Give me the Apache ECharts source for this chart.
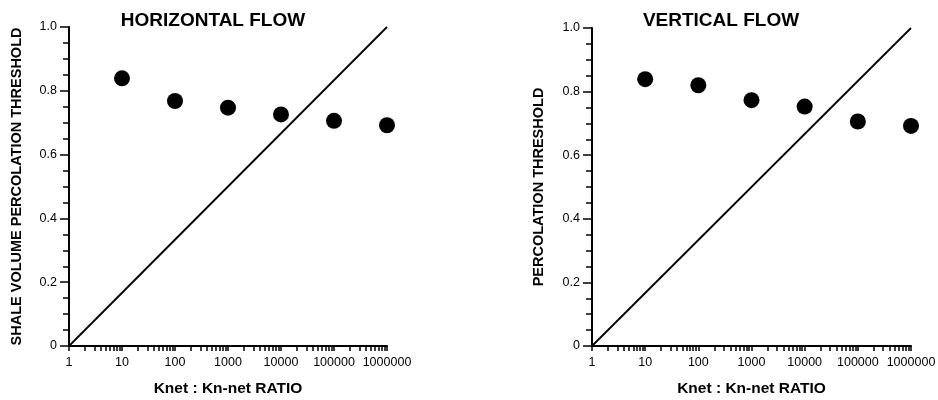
<!DOCTYPE html>
<html>
<head>
<meta charset="utf-8">
<title>Percolation threshold vs Knet : Kn-net ratio</title>
<script src="https://cdn.jsdelivr.net/npm/echarts@6/dist/echarts.min.js"></script>
<style>
  html, body { margin: 0; padding: 0; background: #fff; }
  #chart { width: 938px; height: 400px; }
</style>
</head>
<body>
<div id="chart"></div>
<script>
// Knet : Kn-net ratio (x positions of the dots)
const ratios = [10, 100, 1000, 10000, 100000, 1000000];
const horizontalThreshold = [0.839, 0.768, 0.747, 0.726, 0.706, 0.692];
const verticalThreshold = [0.839, 0.820, 0.773, 0.753, 0.706, 0.692];
// reference diagonal, from (1, 0) to (1000000, 1)
const diagonalX = [1, 1000000];
const diagonalY = [0, 1];

const titles = ['HORIZONTAL FLOW', 'VERTICAL FLOW'];
const yNames = ['SHALE VOLUME PERCOLATION THRESHOLD', 'PERCOLATION THRESHOLD'];
const xName = 'Knet : Kn-net RATIO';

const font = '"Liberation Sans", Arial, Helvetica, sans-serif';

// log minor ticks 2..9 of every decade, plus the decades
const xTickValues = [];
for (let d = 1; d < 1000000; d *= 10) {
  for (let k = 1; k < 10; k++) xTickValues.push(d * k);
}
xTickValues.push(1000000);

// outerBoundsMode none: keep the plot box where it is, labels may run to the edge
const grids = [
  {left: 69, top: 27, width: 318, height: 319, outerBoundsMode: 'none'},
  {left: 592, top: 28, width: 319, height: 318, outerBoundsMode: 'none'}
];

function xAxisFor(i) {
  return {
    gridIndex: i,
    type: 'log',
    logBase: 10,
    min: 1,
    max: 1000000,
    name: xName,
    nameLocation: 'middle',
    nameGap: 35,
    nameTextStyle: {fontFamily: font, fontWeight: 'bold', fontSize: 15.5, color: '#000'},
    axisLine: {onZero: false, lineStyle: {color: '#000', width: 2}},
    axisTick: {show: true, length: 5, customValues: xTickValues, lineStyle: {color: '#000', width: 1.5}},
    axisLabel: {
      fontFamily: font, fontSize: 12.5, color: '#000', margin: 10,
      formatter: function (v) { return String(Math.round(v)) }
    },
    splitLine: {show: false},
    minorTick: {show: false}
  }
}

function yAxisFor(i) {
  return {
    gridIndex: i,
    type: 'value',
    min: 0,
    max: 1,
    interval: 0.2,
    name: yNames[i],
    nameLocation: 'middle',
    nameGap: i === 0 ? 45 : 46,
    nameTextStyle: {fontFamily: font, fontWeight: 'bold', fontSize: 14.5, color: '#000'},
    axisLine: {lineStyle: {color: '#000', width: 2}},
    axisTick: {show: true, length: 9, lineStyle: {color: '#000', width: 1.5}},
    minorTick: {show: true, splitNumber: 4, length: 6, lineStyle: {color: '#000', width: 1.5}},
    axisLabel: {
      fontFamily: font, fontSize: 12.5, color: '#000', margin: 12,
      padding: [0, 0, 6, 0],
      formatter: function (v) { return v === 0 ? '0' : v.toFixed(1) }
    },
    splitLine: {show: false},
    minorSplitLine: {show: false}
  }
}

const diagonal = diagonalX.map((x, j) => [x, diagonalY[j]]);
const seriesData = [horizontalThreshold, verticalThreshold];

const series = [];
[0, 1].forEach(i => {
  series.push({
    type: 'line',
    xAxisIndex: i,
    yAxisIndex: i,
    data: diagonal,
    symbol: 'none',
    silent: true,
    lineStyle: {color: '#000', width: 1.8}
  });
  series.push({
    type: 'scatter',
    xAxisIndex: i,
    yAxisIndex: i,
    data: ratios.map((r, j) => [r, seriesData[i][j]]),
    symbol: 'circle',
    symbolSize: 16,
    itemStyle: {color: '#000', opacity: 1}
  });
});

const chart = echarts.init(document.getElementById('chart'), null, {renderer: 'canvas'});
chart.setOption({
  animation: false,
  backgroundColor: '#fff',
  title: [
    {text: titles[0], left: 208, top: 6, textAlign: 'center',
      textStyle: {fontFamily: font, fontWeight: 'bold', fontSize: 19, color: '#000'}},
    {text: titles[1], left: 716, top: 6, textAlign: 'center',
      textStyle: {fontFamily: font, fontWeight: 'bold', fontSize: 19, color: '#000'}}
  ],
  grid: grids,
  xAxis: [xAxisFor(0), xAxisFor(1)],
  yAxis: [yAxisFor(0), yAxisFor(1)],
  series: series
});
</script>
</body>
</html>
